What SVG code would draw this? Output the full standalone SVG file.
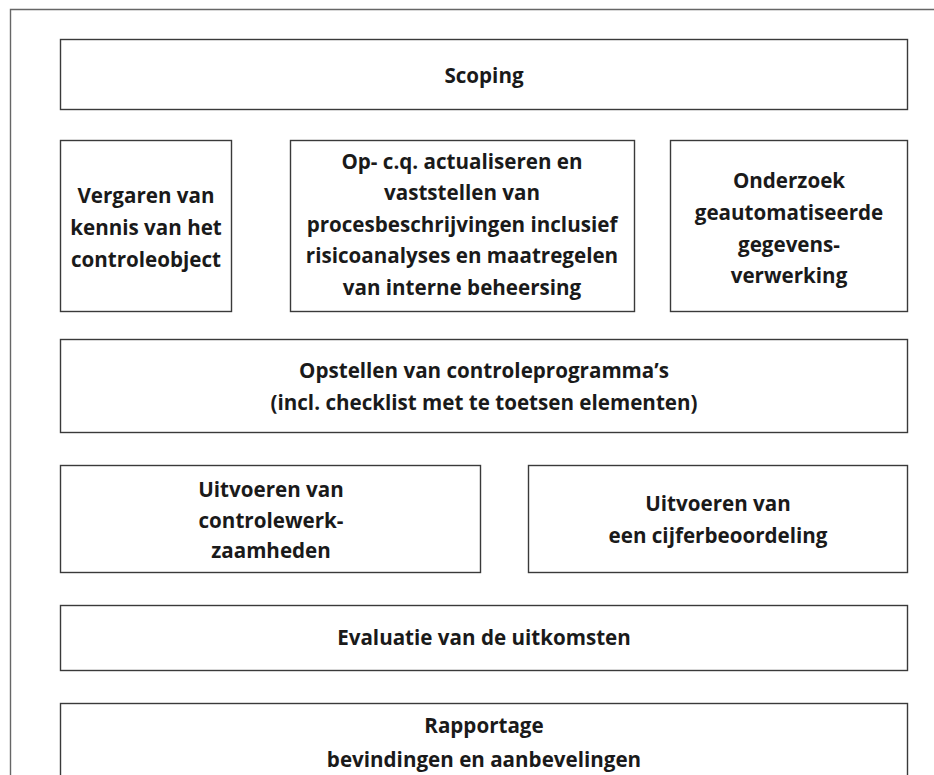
<svg xmlns="http://www.w3.org/2000/svg" width="934" height="775" viewBox="0 0 934 775">
<style>
.box{fill:#fff;stroke:#3a3a3a;stroke-width:1.4}
.frame{fill:none;stroke:#666;stroke-width:1.4}
text{font-family:"Open Sans","Liberation Sans",sans-serif;font-weight:bold;font-size:20.6px;fill:#1a1a1a;text-anchor:middle}
</style>
<rect width="934" height="775" fill="#fff"/>
<path class="frame" d="M10.5,775 V9.5 H934"/>
<g id="connectors"></g>
<g id="scoping"><rect class="box" x="60.5" y="39.5" width="847" height="70"/><text x="484" y="83">Scoping</text></g>
<g id="vergaren"><rect class="box" x="60.5" y="140.5" width="171" height="171"/>
<text x="146" y="203">Vergaren van</text><text x="146" y="235">kennis van het</text><text x="146" y="267">controleobject</text></g>
<g id="actualiseren"><rect class="box" x="290.5" y="140.5" width="344" height="171"/>
<text x="462" y="169">Op- c.q. actualiseren en</text><text x="462" y="200">vaststellen van</text><text x="462" y="232">procesbeschrijvingen inclusief</text><text x="462" y="263">risicoanalyses en maatregelen</text><text x="462" y="295">van interne beheersing</text></g>
<g id="onderzoek"><rect class="box" x="670.5" y="140.5" width="237" height="171"/>
<text x="789" y="188">Onderzoek</text><text x="789" y="220">geautomatiseerde</text><text x="789" y="252">gegevens-</text><text x="789" y="283">verwerking</text></g>
<g id="opstellen"><rect class="box" x="60.5" y="339.5" width="847" height="93"/>
<text x="484" y="378">Opstellen van controleprogramma’s</text><text x="484" y="410">(incl. checklist met te toetsen elementen)</text></g>
<g id="uitvoeren1"><rect class="box" x="60.5" y="465.5" width="420" height="107"/>
<text x="271" y="497">Uitvoeren van</text><text x="271" y="528">controlewerk-</text><text x="271" y="558">zaamheden</text></g>
<g id="uitvoeren2"><rect class="box" x="528.5" y="465.5" width="379" height="107"/>
<text x="718" y="511">Uitvoeren van</text><text x="718" y="543">een cijferbeoordeling</text></g>
<g id="evaluatie"><rect class="box" x="60.5" y="605.5" width="847" height="65"/>
<text x="484" y="645">Evaluatie van de uitkomsten</text></g>
<g id="rapportage"><rect class="box" x="60.5" y="703.5" width="847" height="90"/>
<text x="484" y="733">Rapportage</text><text x="484" y="767">bevindingen en aanbevelingen</text></g>
</svg>
